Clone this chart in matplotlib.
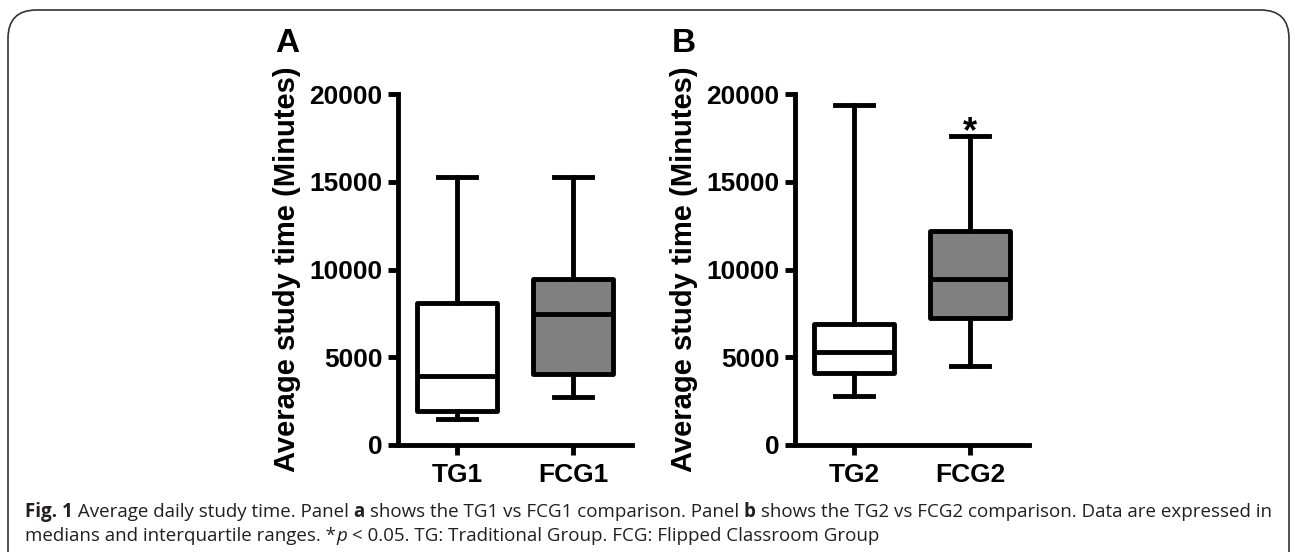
import matplotlib
matplotlib.use("Agg")
import matplotlib.pyplot as plt
from matplotlib.patches import FancyBboxPatch

# box plot summaries (minutes)
groups_a = ["TG1", "FCG1"]
min_a = [1460, 2750]
q1_a = [1940, 4030]
med_a = [3930, 7460]
q3_a = [8070, 9460]
max_a = [15290, 15290]

groups_b = ["TG2", "FCG2"]
min_b = [2810, 4520]
q1_b = [4080, 7250]
med_b = [5320, 9440]
q3_b = [6900, 12210]
max_b = [19370, 17630]

fills = ["white", "#808080"]
yticks = [0, 5000, 10000, 15000, 20000]
ylabel = "Average study time (Minutes)"

plt.rcParams["font.family"] = ["Liberation Sans", "DejaVu Sans"]
W, H = 1295, 552
fig = plt.figure(figsize=(W / 100, H / 100), dpi=100)

# rounded frame around the figure
frame = FancyBboxPatch((8 / W, -0.1), (1289 - 8) / W, (H - 10) / H + 0.1,
                       boxstyle="round,pad=0,rounding_size=0.022",
                       transform=fig.transFigure, fill=False,
                       edgecolor="#333333", linewidth=1.2, mutation_aspect=W / H)
fig.patches.append(frame)

LW = 3.5


def panel(left, names, mins, q1s, meds, q3s, maxs, letter):
    ax = fig.add_axes([left / W, 1 - 445 / H, 234 / W, 351 / H])
    stats = []
    for i in range(len(names)):
        stats.append({"whislo": mins[i], "q1": q1s[i], "med": meds[i],
                      "q3": q3s[i], "whishi": maxs[i], "fliers": []})
    bp = ax.bxp(stats, positions=[1, 2], widths=0.69, capwidths=0.33,
                patch_artist=True, showfliers=False,
                boxprops=dict(linewidth=LW, edgecolor="black"),
                whiskerprops=dict(linewidth=LW, color="black"),
                capprops=dict(linewidth=LW, color="black"),
                medianprops=dict(linewidth=LW, color="black"))
    for patch, c in zip(bp["boxes"], fills):
        patch.set_facecolor(c)
        patch.set_joinstyle("round")
    ax.set_xlim(0.49, 2.51)
    ax.set_ylim(0, 20000)
    ax.set_yticks(yticks)
    ax.set_yticklabels([str(v) for v in yticks])
    ax.set_xticks([1, 2])
    ax.set_xticklabels(names)
    for s in ["top", "right"]:
        ax.spines[s].set_visible(False)
    for s in ["left", "bottom"]:
        ax.spines[s].set_linewidth(LW)
        ax.spines[s].set_capstyle("projecting")
    ax.tick_params(width=LW, length=7, direction="out", labelsize=19)
    ax.tick_params(axis="y", pad=4)
    ax.tick_params(axis="x", pad=6)
    for t in ax.get_xticklabels() + ax.get_yticklabels():
        t.set_fontweight("bold")
    ax.patch.set_visible(False)
    fig.text((left - 111) / W, 1 - 269 / H, ylabel, rotation=90,
             ha="center", va="center", fontsize=21, fontweight="bold")
    fig.text((left - 123) / W, 1 - 52 / H, letter, ha="left", va="baseline",
             fontsize=24, fontweight="bold")
    return ax


ax_a = panel(398, groups_a, min_a, q1_a, med_a, q3_a, max_a, "A")
ax_b = panel(795, groups_b, min_b, q1_b, med_b, q3_b, max_b, "B")
ax_b.annotate("*", xy=(2, max_b[1]), xytext=(0, -5), textcoords="offset points",
              ha="center", va="baseline", fontsize=26, fontweight="bold",
              annotation_clip=False)

# caption, pieces placed one after another
cap_font = ["Open Sans", "DejaVu Sans"]
cap_size = 13.5
cap_color = "#231f20"
line1 = [("Fig. 1", "bold", "normal"),
         (" Average daily study time. Panel ", "normal", "normal"),
         ("a", "bold", "normal"),
         (" shows the TG1 vs FCG1 comparison. Panel ", "normal", "normal"),
         ("b", "bold", "normal"),
         (" shows the TG2 vs FCG2 comparison. Data are expressed in", "normal", "normal")]
line2 = [("medians and interquartile ranges. *", "normal", "normal"),
         ("p", "normal", "italic"),
         (" < 0.05. TG: Traditional Group. FCG: Flipped Classroom Group", "normal", "normal")]

renderer = fig.canvas.get_renderer()
for pieces, base in [(line1, 517), (line2, 541)]:
    x = 25
    for txt, wt, st in pieces:
        t = fig.text(x / W, 1 - base / H, txt, ha="left", va="baseline",
                     fontsize=cap_size, fontweight=wt, fontstyle=st,
                     family=cap_font, color=cap_color)
        bb = t.get_window_extent(renderer)
        x += bb.width

fig.savefig("out.png", dpi=100)
